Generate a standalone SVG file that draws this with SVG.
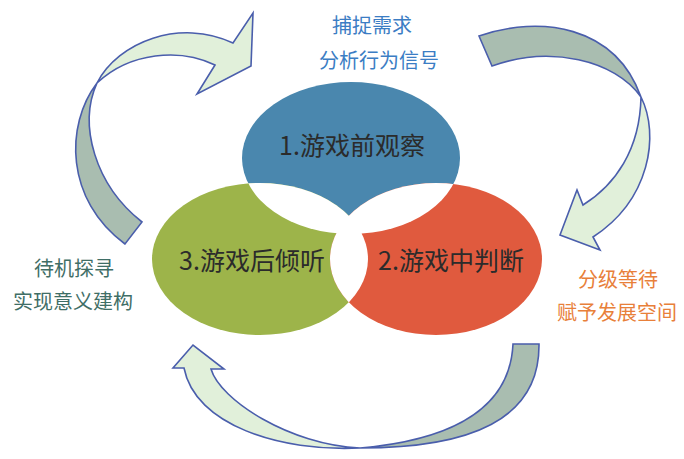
<svg xmlns="http://www.w3.org/2000/svg" width="684" height="459" viewBox="0 0 684 459">
<defs>
<style>
.arr{stroke:#4a5eac;stroke-width:1.6;stroke-linejoin:miter}
.dark{fill:#a9bdb0}
.light{fill:#e1f0da}
.big{font-family:"Noto Sans CJK SC","Liberation Sans",sans-serif;font-size:25px;fill:#2b2b2b;text-anchor:middle}
.lab{font-family:"Noto Sans CJK SC","Liberation Sans",sans-serif;font-size:20px;text-anchor:middle}
</style>
<clipPath id="cBlue"><ellipse cx="351" cy="158" rx="109" ry="76"/></clipPath>
<clipPath id="cGreen"><ellipse cx="260" cy="259" rx="108" ry="76"/></clipPath>
</defs>
<rect width="684" height="459" fill="#ffffff"/>
<g id="connectors">
<g id="arrow-left">
<path class="arr dark" d="M97,83 C65,125 65,200 125,244 L142,222 C95,185 78,125 97,83 Z"/>
<path class="arr light" d="M97,83 C118,42 180,18 233,43 L253,13 L251,66 L197,94 L215,65 C180,48 130,52 97,83 Z"/>
</g>
<g id="arrow-right">
<path class="arr dark" d="M479,36 C540,15 615,25 641,97 C615,60 550,45 492,66 Z"/>
<path class="arr light" d="M641,97 C660,135 650,200 593,237 L600,250 L560,235 L577,190 L583,205 C615,185 640,150 641,97 Z"/>
</g>
<g id="arrow-bottom">
<path class="arr dark" d="M539,344 C540,420 470,448 360,448 C450,440 510,410 513,344 Z"/>
<path class="arr light" d="M360,448 C280,452 195,425 184,368 L173,368 L193,345 L224,369 L211,369 C220,400 290,445 360,448 Z"/>
</g>
</g>
<g id="ellipses">
<ellipse id="e-blue" cx="351" cy="158" rx="109" ry="76" fill="#4a87ae"/>
<ellipse id="e-green" cx="260" cy="259" rx="108" ry="76" fill="#9db44a"/>
<ellipse id="e-red" cx="436" cy="259" rx="106" ry="76" fill="#e05a3e"/>
<ellipse cx="260" cy="259" rx="108" ry="76" fill="#ffffff" clip-path="url(#cBlue)"/>
<ellipse cx="436" cy="259" rx="106" ry="76" fill="#ffffff" clip-path="url(#cBlue)"/>
<ellipse cx="436" cy="259" rx="106" ry="76" fill="#ffffff" clip-path="url(#cGreen)"/>
</g>
<g id="node1"><text class="big" x="352" y="155">1.游戏前观察</text></g>
<g id="node2"><text class="big" x="451" y="270">2.游戏中判断</text></g>
<g id="node3"><text class="big" x="252" y="270">3.游戏后倾听</text></g>
<g id="label-top" fill="#3b7dc4"><text class="lab" x="372" y="33">捕捉需求</text><text class="lab" x="379" y="68">分析行为信号</text></g>
<g id="label-left" fill="#3f6e66"><text class="lab" x="74" y="276">待机探寻</text><text class="lab" x="73" y="309">实现意义建构</text></g>
<g id="label-right" fill="#e8803a"><text class="lab" x="618" y="287">分级等待</text><text class="lab" x="617" y="320">赋予发展空间</text></g>
</svg>
